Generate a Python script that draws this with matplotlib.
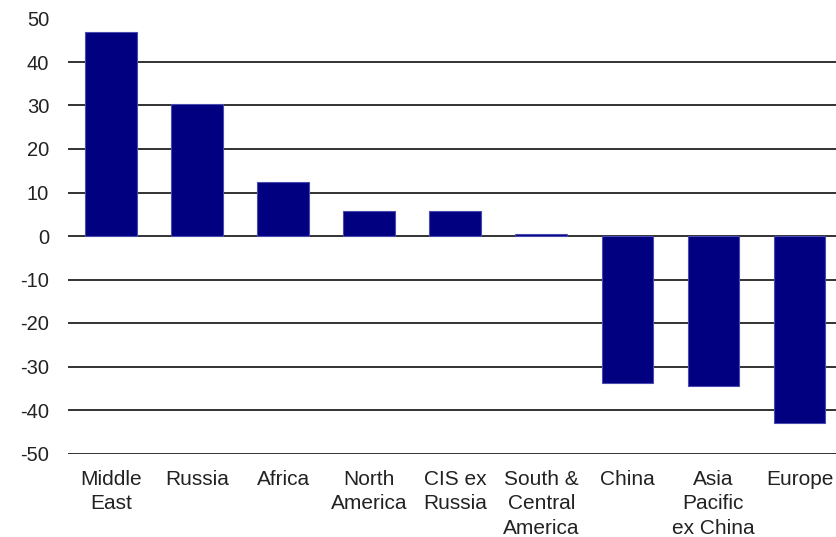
import numpy as np
import matplotlib.pyplot as plt

plt.rcParams['font.family'] = ['Liberation Sans', 'DejaVu Sans']

regions = ["Middle\nEast", "Russia", "Africa", "North\nAmerica", "CIS ex\nRussia",
           "South &\nCentral\nAmerica", "China", "Asia\nPacific\nex China", "Europe"]
balance = [46.8, 30.3, 12.4, 5.8, 5.8, 0.4, -33.9, -34.5, -43.0]
yticks = np.arange(-50, 51, 10)

fig = plt.figure(figsize=(8.37, 5.37), dpi=100)
ax = fig.add_axes([68 / 837, 1 - 453.5 / 537, 774.5 / 837, 435 / 537])

x = np.arange(len(regions))
ax.bar(x, balance, width=0.6, color="#000080", edgecolor="#4a4ab0", linewidth=0.8, zorder=3)

ax.set_xlim(-0.5, len(regions) - 0.5)
ax.set_ylim(-50, 50)
ax.set_yticks(yticks)
ax.set_yticklabels([str(v) for v in yticks])
ax.set_xticks(x)
ax.set_xticklabels(regions, va="top", linespacing=1.35)
ax.tick_params(axis="y", length=0, pad=13.5, labelsize=14.5, labelcolor="#222222")
ax.tick_params(axis="x", length=0, pad=12, labelsize=15, labelcolor="#222222")

ax.grid(axis="y", color="#222222", linewidth=1.3, zorder=0)
ax.set_axisbelow(True)
for s in ax.spines.values():
    s.set_visible(False)

fig.savefig("out.png", dpi=100)
